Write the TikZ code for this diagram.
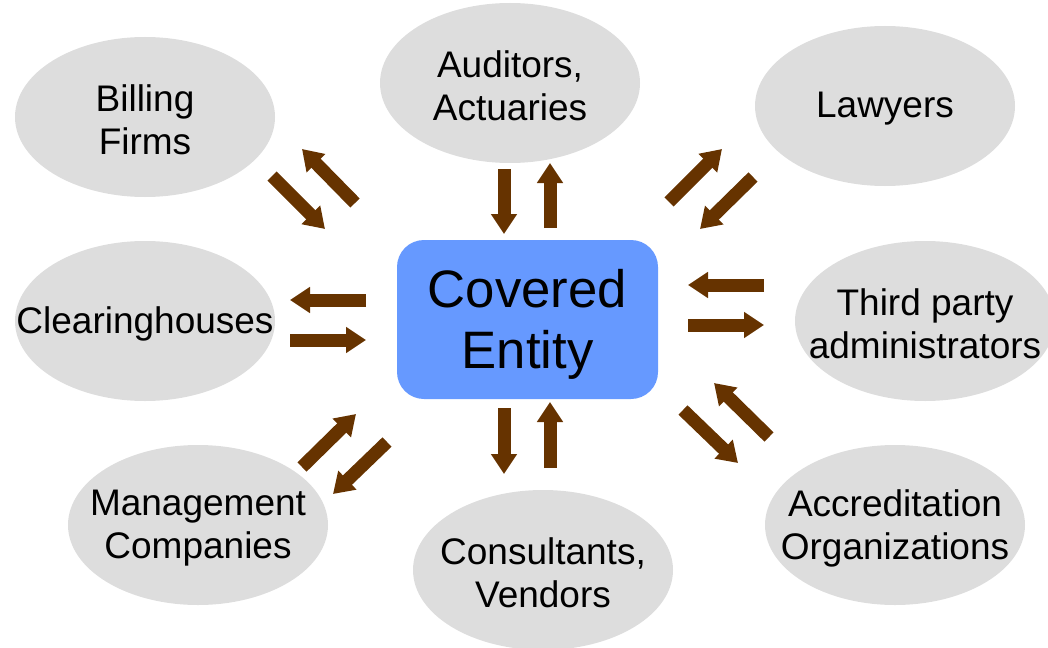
\documentclass[tikz,border=0pt]{standalone}
\usepackage{fontspec}
\setmainfont{Liberation Sans}
\usetikzlibrary{arrows.meta,shapes.geometric}
\definecolor{ellgray}{HTML}{DDDDDD}
\definecolor{boxblue}{HTML}{6699FF}
\definecolor{arrbrown}{HTML}{663300}
\begin{document}
\begin{tikzpicture}[x=1pt,y=-1pt,
  party/.style={ellipse, fill=ellgray, minimum width=260pt, minimum height=160pt, inner sep=0pt},
  ptext/.style={inner sep=0pt, align=center, yshift=-3pt, font=\fontsize{37}{43}\selectfont},
  cebox/.style={rectangle, rounded corners=27pt, fill=boxblue, minimum width=261pt, minimum height=159pt, inner sep=0pt},
  cetext/.style={inner sep=0pt, align=center, yshift=-4.5pt, font=\fontsize{52.7}{61}\selectfont},
  blockarrow/.style={draw=arrbrown, line width=13pt, line cap=butt, -{Triangle[width=25pt,length=20pt]}}
]
\useasboundingbox (0,0) rectangle (1048,647);

\node[party] (billing) at (145,117) {};
\node[party] (auditors) at (510,83) {};
\node[party] (lawyers) at (885,106) {};
\node[party] (clearing) at (145,321) {};
\node[party] (third) at (925,321) {};
\node[party] (mgmt) at (198,525) {};
\node[party] (consult) at (543,570) {};
\node[party] (accred) at (895,525) {};
\node[cebox] (ce) at (527.5,319.5) {};

\node[ptext] (billing-t) at (billing.center) {Billing\\Firms};
\node[ptext] (auditors-t) at (auditors.center) {Auditors,\\Actuaries};
\node[ptext] (lawyers-t) at (lawyers.center) {Lawyers};
\node[ptext] (clearing-t) at (clearing.center) {Clearinghouses};
\node[ptext] (third-t) at (third.center) {Third party\\administrators};
\node[ptext] (mgmt-t) at (mgmt.center) {Management\\Companies};
\node[ptext] (consult-t) at (consult.center) {Consultants,\\Vendors};
\node[ptext] (accred-t) at (accred.center) {Accreditation\\Organizations};
\node[cetext] (ce-t) at (ce.center) {Covered\\Entity};

% Billing
\coordinate (b1s) at (272,176); \coordinate (b1e) at (325,229);
\coordinate (b2s) at (355,203); \coordinate (b2e) at (302,149);
% Auditors
\coordinate (a1s) at (504,169); \coordinate (a1e) at (504,234);
\coordinate (a2s) at (550,228); \coordinate (a2e) at (550,163);
% Lawyers
\coordinate (l1s) at (669,202); \coordinate (l1e) at (722,149);
\coordinate (l2s) at (753,177); \coordinate (l2e) at (700,229);
% Clearinghouses
\coordinate (c1s) at (366,300); \coordinate (c1e) at (290,300);
\coordinate (c2s) at (290,340); \coordinate (c2e) at (366,340);
% Third party
\coordinate (t1s) at (764,285); \coordinate (t1e) at (688,285);
\coordinate (t2s) at (688,325); \coordinate (t2e) at (764,325);
% Management
\coordinate (m1s) at (302,467); \coordinate (m1e) at (356,414);
\coordinate (m2s) at (387,442); \coordinate (m2e) at (333,494);
% Consultants
\coordinate (v1s) at (504,408); \coordinate (v1e) at (504,474);
\coordinate (v2s) at (550,468); \coordinate (v2e) at (550,402);
% Accreditation
\coordinate (r1s) at (683,410); \coordinate (r1e) at (738,463);
\coordinate (r2s) at (769,437); \coordinate (r2e) at (714,383);

\foreach \p in {b1,b2,a1,a2,l1,l2,c1,c2,t1,t2,m1,m2,v1,v2,r1,r2}
  \draw[blockarrow] (\p s) -- (\p e);
\end{tikzpicture}
\end{document}
